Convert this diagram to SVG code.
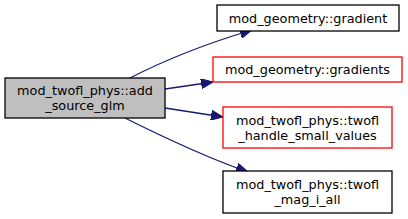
<svg xmlns="http://www.w3.org/2000/svg" width="408" height="219" viewBox="0 0 408 219">
<defs>
<marker id="ah" markerWidth="12" markerHeight="10" refX="12" refY="5" orient="auto" markerUnits="userSpaceOnUse">
<polygon points="0,0 12,5 0,10" fill="#191970" stroke="#191970"/>
</marker>
<style>
text{font-family:"DejaVu Sans",sans-serif;font-size:12.8px;text-anchor:middle;fill:#000}
.n{fill:#fff;stroke:#000;stroke-width:1.3}
.r{fill:#fff;stroke:#ff0000;stroke-width:1.3}
.s{fill:#bfbfbf;stroke:#000;stroke-width:1.3}
.e{fill:none;stroke:#191970;stroke-width:1.3;marker-end:url(#ah)}
</style>
</defs>
<rect width="408" height="219" fill="#fff"/>
<g id="connectors">
<path class="e" d="M130,78 C165,60 205,44 252,30"/>
<path class="e" d="M165,89 L213,82"/>
<path class="e" d="M165,108 L223,117"/>
<path class="e" d="M125,118 C165,138 205,157 248,172"/>
</g>
<g id="n0">
<rect class="s" x="5" y="78" width="160" height="40"/>
<text x="85" y="95">mod_twofl_phys::add</text>
<text x="85" y="110">_source_glm</text>
</g>
<g id="n1">
<rect class="n" x="217" y="5" width="182" height="26"/>
<text x="308" y="22.5">mod_geometry::gradient</text>
</g>
<g id="n2">
<rect class="r" x="213" y="57" width="189" height="25"/>
<text x="307.5" y="74">mod_geometry::gradients</text>
</g>
<g id="n3">
<rect class="r" x="223" y="107" width="169" height="41"/>
<text x="307.5" y="124.5">mod_twofl_phys::twofl</text>
<text x="307.5" y="139.5">_handle_small_values</text>
</g>
<g id="n4">
<rect class="n" x="223" y="171" width="169" height="42"/>
<text x="307.5" y="189">mod_twofl_phys::twofl</text>
<text x="307.5" y="204">_mag_i_all</text>
</g>
</svg>
